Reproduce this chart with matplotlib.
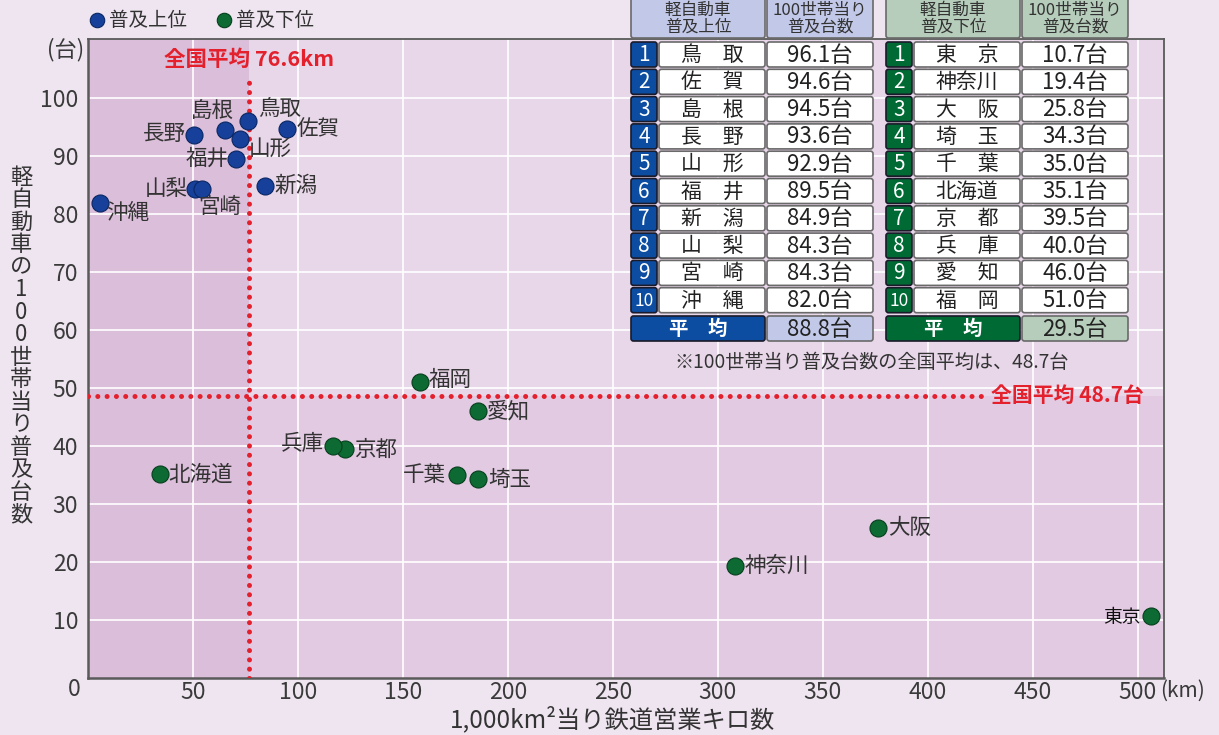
import numpy as np
import matplotlib.pyplot as plt
from matplotlib.patches import FancyBboxPatch

plt.rcParams['font.family'] = ['Noto Sans CJK JP', 'DejaVu Sans']

# 普及上位 (x: 1,000km2当り鉄道営業キロ, y: 100世帯当り普及台数)
top_pref = ["鳥取", "佐賀", "島根", "長野", "山形", "福井", "新潟", "山梨", "宮崎", "沖縄"]
top_km = [76.4, 94.8, 65.1, 50.7, 72.6, 70.7, 84.3, 51.2, 54.3, 5.5]
top_num = [96.1, 94.6, 94.5, 93.6, 92.9, 89.5, 84.9, 84.3, 84.3, 82.0]
top_avg = 88.8

# 普及下位
low_pref = ["東京", "神奈川", "大阪", "埼玉", "千葉", "北海道", "京都", "兵庫", "愛知", "福岡"]
low_km = [506.2, 308.2, 376.5, 185.7, 175.7, 34.5, 122.6, 116.7, 185.7, 158.2]
low_num = [10.7, 19.4, 25.8, 34.3, 35.0, 35.1, 39.5, 40.0, 46.0, 51.0]
low_avg = 29.5

nat_km = 76.6
nat_num = 48.7

xticks = [50, 100, 150, 200, 250, 300, 350, 400, 450, 500]
yticks = [10, 20, 30, 40, 50, 60, 70, 80, 90, 100]

# label offsets in pixels (dx, dy, ha)
top_off = [(10, 12, 'left'), (10, 0, 'left'), (-12, 18, 'center'), (-9, 1, 'right'),
           (8, -10, 'left'), (-8, 0, 'right'), (9, 0, 'left'), (-8, 0, 'right'),
           (-4, -18, 'left'), (7, -10, 'left')]
low_off = [(-10, -2, 'right'), (10, 0, 'left'), (10, 0, 'left'), (10, -1, 'left'),
           (-11, 0, 'right'), (8, 0, 'left'), (9, -1, 'left'), (-9, 2, 'right'),
           (9, 0, 'left'), (8, 2, 'left')]

W, H = 1219, 735
BLUE = '#0C4DA2'
GREEN = '#006A35'
RED = '#E3202C'
TXT = '#333333'

fig = plt.figure(figsize=(W / 100, H / 100), dpi=100)
fig.patch.set_facecolor('#EFE5F1')

ax = fig.add_axes([88 / W, 1 - 678 / H, (1164 - 88) / W, (678 - 39) / H])
xmax, ymax = 512.5, 110.2
ax.set_xlim(0, xmax)
ax.set_ylim(0, ymax)
ax.set_facecolor('#E2CAE2')
ax.axvspan(0, nat_km, color='#DBBEDA', zorder=0, lw=0)
ax.fill_between([nat_km, xmax], nat_num, ymax, color='#E8D6E9', zorder=0, lw=0)

ax.set_axisbelow(True)
ax.grid(color='white', lw=1.2)
ax.set_xticks(xticks)
ax.set_yticks(yticks)
ax.tick_params(length=0, labelsize=16.5, colors='#3a3a3a')
ax.tick_params(axis='x', pad=2)
ax.tick_params(axis='y', pad=7)
for s in ax.spines.values():
    s.set_color('#5a5a5a')
    s.set_linewidth(1.3)
ax.spines['left'].set_linewidth(1.8)
ax.spines['bottom'].set_linewidth(1.8)

dot = dict(color=RED, lw=3.6, linestyle=(0, (0.01, 1.85)), dash_capstyle='round', zorder=3)
ax.plot([nat_km, nat_km], [0, 103], **dot)
ax.plot([0, 428], [nat_num, nat_num], **dot)
ax.text(nat_km, 106.6, f"全国平均 {nat_km}km", color=RED, fontsize=15.5, fontweight='bold',
        ha='center', va='center')
ax.text(430, nat_num, f"全国平均 {nat_num}台", color=RED, fontsize=15, fontweight='bold',
        ha='left', va='center')

ax.scatter(top_km, top_num, s=150, c='#16409A', edgecolors='#0A2763', lw=0.8, zorder=5,
           label='普及上位')
ax.scatter(low_km, low_num, s=150, c='#0D6A33', edgecolors='#063F1D', lw=0.8, zorder=5,
           label='普及下位')

for name, x, y, (dx, dy, ha) in zip(top_pref, top_km, top_num, top_off):
    ax.annotate(name, (x, y), xytext=(dx, dy), textcoords='offset pixels', ha=ha,
                va='center', fontsize=15.5, color=TXT, zorder=6)
for name, x, y, (dx, dy, ha) in zip(low_pref, low_km, low_num, low_off):
    big = name != "東京"
    ax.annotate(name, (x, y), xytext=(dx, dy), textcoords='offset pixels', ha=ha,
                va='center', fontsize=15.5 if big else 13.5, color=TXT if big else '#111111',
                zorder=6)

leg = ax.legend(loc='center left', bbox_to_anchor=(76 / W, 1 - 20 / H),
                bbox_transform=fig.transFigure, ncol=2, frameon=False, fontsize=14,
                handletextpad=0.0, columnspacing=1.3, handlelength=1.2, borderpad=0,
                markerscale=0.85)
for t in leg.get_texts():
    t.set_color(TXT)

# overlay in pixel coordinates for texts and tables
ov = fig.add_axes([0, 0, 1, 1], zorder=10)
ov.set_xlim(0, W)
ov.set_ylim(H, 0)
ov.axis('off')
ov.patch.set_alpha(0)

ov.text(74, 690, "0", fontsize=16.5, color='#3a3a3a', ha='center', va='center')
ov.text(1160, 691, "(km)", fontsize=15, color='#3a3a3a', ha='left', va='center')
ov.text(84, 50, "(台)", fontsize=16, color='#3a3a3a', ha='right', va='center')
ov.text(612, 720, "1,000km²当り鉄道営業キロ数", fontsize=17.5, color=TXT, ha='center',
        va='center')
ylab = "軽自動車の100世帯当り普及台数"
for i, ch in enumerate(ylab):
    ov.text(21, 177 + 22.5 * i, ch, fontsize=16, color=TXT, ha='center', va='center')


def box(x0, y0, x1, y1, fc, ec='#6a6a6a'):
    ov.add_patch(FancyBboxPatch((x0, y0), x1 - x0, y1 - y0,
                                boxstyle="round,pad=0,rounding_size=2.5",
                                fc=fc, ec=ec, lw=1.2))


def spaced(n):
    return n[0] + "\u3000" + n[1] if len(n) == 2 else n


tables = [(631, top_pref, top_num, top_avg, BLUE, '#C2C8E8', "軽自動車\n普及上位"),
          (886, low_pref, low_num, low_avg, GREEN, '#B6CDBB', "軽自動車\n普及下位")]
for x0, names, vals, avg, dark, light, head in tables:
    box(x0, -4, x0 + 134, 38, light)
    box(x0 + 136, -4, x0 + 242, 38, light)
    ov.text(x0 + 67, 19, head, fontsize=12, color=TXT, ha='center', va='center',
            linespacing=1.0)
    ov.text(x0 + 189, 19, "100世帯当り\n普及台数", fontsize=12, color=TXT, ha='center',
            va='center', linespacing=1.0)
    for i, (n, v) in enumerate(zip(names, vals)):
        y = 42 + 27.3 * i
        box(x0, y, x0 + 26, y + 25, dark, ec='#1a1a2a')
        ov.text(x0 + 13, y + 13, str(i + 1), fontsize=15 if i < 9 else 12.5,
                color='white', ha='center', va='center')
        box(x0 + 28, y, x0 + 134, y + 25, 'white')
        ov.text(x0 + 81, y + 13, spaced(n), fontsize=15, color='#222222', ha='center',
                va='center')
        box(x0 + 136, y, x0 + 242, y + 25, 'white')
        ov.text(x0 + 189, y + 13, f"{v:.1f}台", fontsize=16, color='#222222',
                ha='center', va='center')
    y = 316
    box(x0, y, x0 + 134, y + 25, dark, ec='#1a1a2a')
    ov.text(x0 + 67, y + 13, "平\u3000均", fontsize=14, color='white', fontweight='bold',
            ha='center', va='center')
    box(x0 + 136, y, x0 + 242, y + 25, light)
    ov.text(x0 + 189, y + 13, f"{avg:.1f}台", fontsize=16, color='#222222',
            ha='center', va='center')

ov.text(872, 362, f"※100世帯当り普及台数の全国平均は、{nat_num}台", fontsize=13.8,
        color=TXT, ha='center', va='center')

fig.savefig('out.png', dpi=100, facecolor=fig.get_facecolor())
